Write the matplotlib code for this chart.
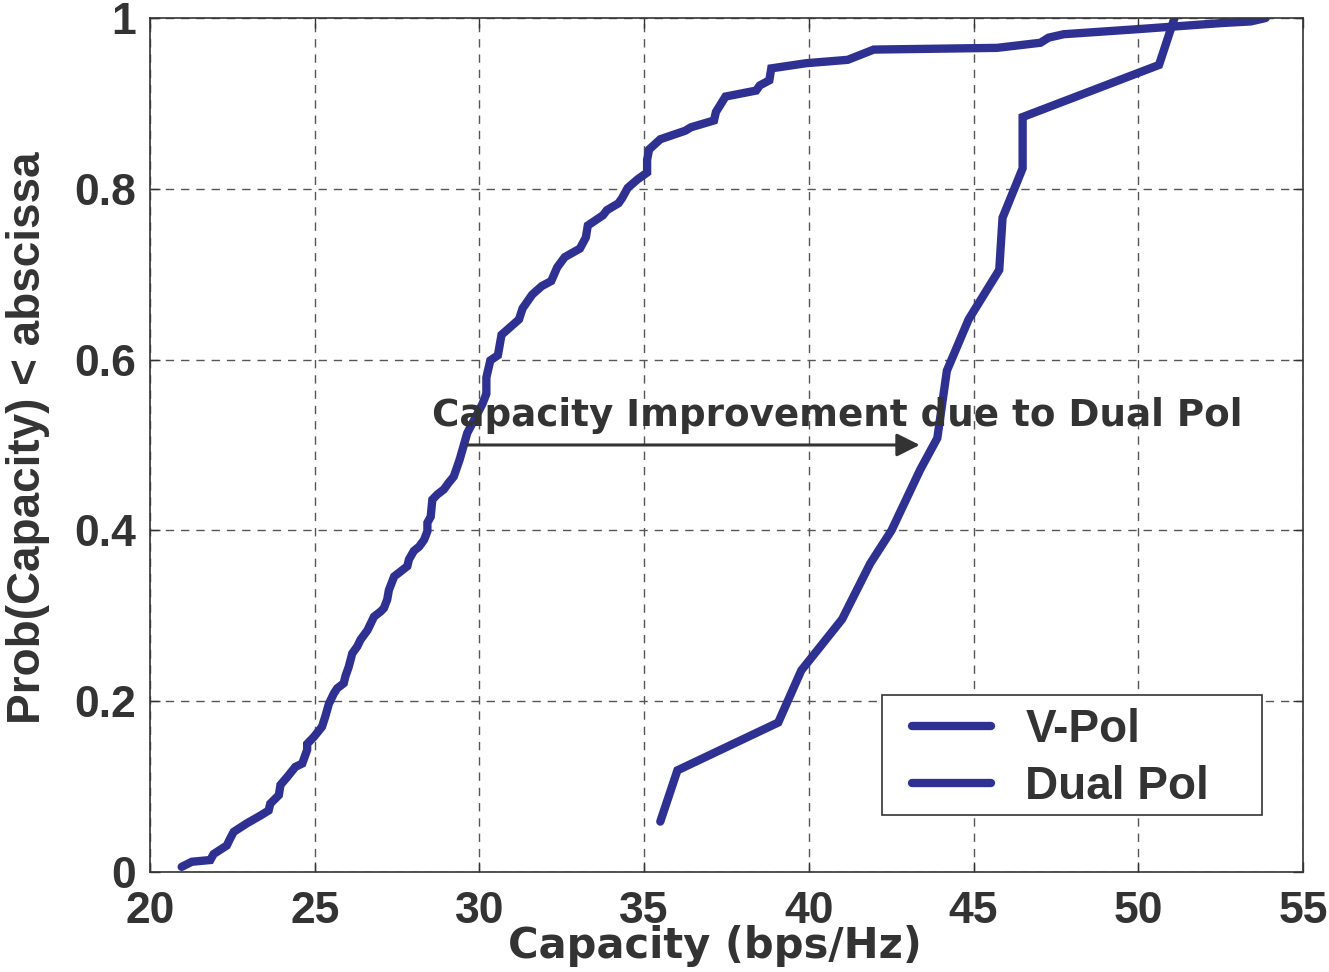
import matplotlib
matplotlib.use('Agg')
import matplotlib.pyplot as plt
from matplotlib.patches import Rectangle

# CDF samples
vpol_x = [20.96, 21.27, 21.83, 21.93, 22.33, 22.43, 22.54, 22.94, 23.35, 23.6, 23.65, 23.91,
          23.96, 24.16, 24.41, 24.62, 24.77, 24.77, 24.97, 25.22, 25.32, 25.43, 25.58, 25.68,
          25.88, 25.93, 26.03, 26.14, 26.29, 26.39, 26.6, 26.8, 27.0, 27.1, 27.2, 27.25,
          27.41, 27.61, 27.81, 27.86, 28.01, 28.17, 28.32, 28.42, 28.42, 28.52, 28.57, 28.72,
          28.92, 29.07, 29.22, 29.4, 29.63, 30.09, 30.21, 30.21, 30.33, 30.56, 30.67, 31.2,
          31.31, 31.6, 31.89, 32.18, 32.36, 32.59, 33.05, 33.23, 33.29, 33.75, 33.87, 34.22,
          34.33, 34.5, 34.8, 35.09, 35.09, 35.15, 35.49, 36.25, 36.42, 37.12, 37.18, 37.47,
          38.4, 38.51, 38.8, 38.86, 39.91, 41.18, 41.97, 45.71, 47.03, 47.28, 47.74, 50.02,
          52.5, 53.42, 53.87]
vpol_y = [0.006, 0.012, 0.014, 0.021, 0.031, 0.039, 0.047, 0.057, 0.066, 0.072, 0.080, 0.090,
          0.102, 0.111, 0.123, 0.127, 0.143, 0.150, 0.158, 0.170, 0.182, 0.197, 0.209, 0.215,
          0.221, 0.229, 0.240, 0.256, 0.264, 0.272, 0.283, 0.299, 0.305, 0.309, 0.319, 0.330,
          0.346, 0.352, 0.358, 0.366, 0.376, 0.381, 0.389, 0.399, 0.409, 0.416, 0.436, 0.442,
          0.448, 0.456, 0.463, 0.483, 0.514, 0.548, 0.560, 0.579, 0.599, 0.605, 0.629, 0.647,
          0.660, 0.676, 0.686, 0.692, 0.708, 0.720, 0.730, 0.743, 0.757, 0.769, 0.775, 0.783,
          0.789, 0.801, 0.811, 0.819, 0.834, 0.846, 0.858, 0.868, 0.872, 0.880, 0.890, 0.908,
          0.915, 0.921, 0.927, 0.941, 0.947, 0.951, 0.963, 0.965, 0.971, 0.977, 0.981, 0.987,
          0.994, 0.996, 1.0]

dual_x = [35.49, 36.01, 39.07, 39.77, 41.01, 41.86, 42.51, 43.38, 43.9, 44.19, 44.85, 45.78,
          45.88, 46.49, 46.49, 50.63, 51.1]
dual_y = [0.059, 0.119, 0.175, 0.236, 0.296, 0.361, 0.400, 0.471, 0.508, 0.587, 0.647, 0.705,
          0.766, 0.824, 0.884, 0.945, 1.0]

x_ticks = [20, 25, 30, 35, 40, 45, 50, 55]
y_ticks = [0, 0.2, 0.4, 0.6, 0.8, 1]
y_ticklabels = ['0', '0.2', '0.4', '0.6', '0.8', '1']

line_color = '#2E3192'
text_color = '#333333'

plt.rcParams['font.family'] = ['Liberation Sans', 'DejaVu Sans']
plt.rcParams['font.weight'] = 'bold'

fig = plt.figure(figsize=(13.29, 9.72), dpi=100)
ax = fig.add_axes([0.1129, 0.1029, 0.8675, 0.8786])

ax.plot(vpol_x, vpol_y, color=line_color, lw=6, solid_capstyle='round',
        solid_joinstyle='miter', label='V-Pol')
ax.plot(dual_x, dual_y, color=line_color, lw=6, solid_capstyle='round',
        solid_joinstyle='miter', label='Dual Pol')

ax.set_xlim(20, 55)
ax.set_ylim(0, 1)
ax.set_xticks(x_ticks)
ax.set_yticks(y_ticks)
ax.set_yticklabels(y_ticklabels)
ax.grid(True, linestyle=(0, (6, 5)), color='#555555', lw=1)
ax.tick_params(direction='in', length=7, width=1, top=True, right=True,
               labelsize=32, colors=text_color, pad=10)
ax.tick_params(axis='x', pad=14)
for s in ax.spines.values():
    s.set_color(text_color)
    s.set_linewidth(1.2)

# x label in the reference is letter-spaced, the wider DejaVu face matches its extent
ax.set_xlabel('Capacity (bps/Hz)', fontsize=30, fontweight='bold', color=text_color,
              family='DejaVu Sans')
ax.xaxis.set_label_coords(0.49, -0.062)
ax.set_ylabel('Prob(Capacity) < abscissa', fontsize=33, fontweight='bold', color=text_color)
ax.yaxis.set_label_coords(-0.087, 0.509)

# improvement annotation
ax.annotate('', xy=(43.45, 0.5), xytext=(29.55, 0.5),
            arrowprops=dict(arrowstyle='-|>', color=text_color, lw=2.2, mutation_scale=35))
ax.text(28.55, 0.535, 'Capacity Improvement due to Dual Pol', fontsize=26.8,
        fontweight='bold', color=text_color, ha='left', va='center', family='DejaVu Sans')

# legend: square box drawn separately, entries placed inside
ax.add_patch(Rectangle((0.635, 0.0667), 0.3296, 0.1405, transform=ax.transAxes,
                       facecolor='white', edgecolor=text_color, lw=1.2, zorder=4))
leg = ax.legend(loc='center left', bbox_to_anchor=(0.661, 0.133), fontsize=33,
                frameon=False, handlelength=1.73, handletextpad=0.74, borderpad=0,
                labelspacing=0.28, borderaxespad=0)
leg.set_zorder(5)
for t in leg.get_texts():
    t.set_color(text_color)

fig.savefig('out.png', dpi=100)
